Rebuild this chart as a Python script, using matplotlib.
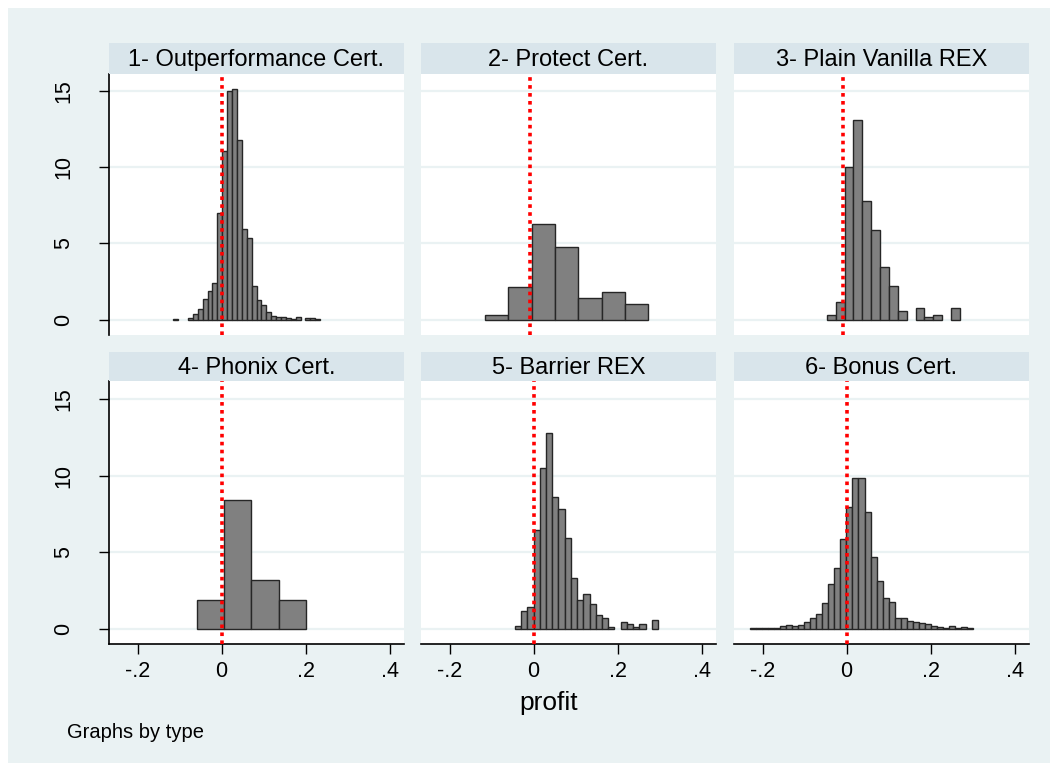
"""Histogramme des profits par type de certificat (style Stata, by(type))."""
import matplotlib.pyplot as plt
import numpy as np
from matplotlib.patches import Rectangle

plt.rcParams["font.family"] = ["Liberation Sans", "DejaVu Sans"]

# --- données -------------------------------------------------------------
titles = [
    "1- Outperformance Cert.",
    "2- Protect Cert.",
    "3- Plain Vanilla REX",
    "4- Phonix Cert.",
    "5- Barrier REX",
    "6- Bonus Cert.",
]
bin_start = [-0.115, -0.1153, -0.047, -0.0589, -0.0444, -0.231]
bin_width = [0.01165, 0.0554, 0.0211, 0.0648, 0.0148, 0.0144]

dens_outperf = [0.05, 0, 0, 0.1, 0.37, 0.72, 1.33, 1.88, 2.42, 6.99, 11.03, 14.96,
                15.15, 11.75, 5.94, 5.35, 2.2, 1.31, 0.96, 0.5, 0.22, 0.17, 0.2,
                0.1, 0.04, 0.2, 0, 0.1, 0.1, 0.04]
dens_protect = [0.28, 2.16, 6.24, 4.76, 1.40, 1.81, 1.03]
dens_vanilla = [0.33, 1.16, 10.0, 13.1, 7.75, 5.9, 3.43, 2.23, 0.55, 0, 0.74,
                0.17, 0.33, 0, 0.74]
dens_phonix = [1.9, 8.44, 3.2, 1.9]
dens_barrier = [0.2, 1.16, 1.4, 6.47, 10.53, 12.8, 8.63, 7.8, 5.91, 3.29, 1.87,
                2.25, 1.59, 0.92, 0.7, 0.11, 0, 0.44, 0.31, 0.11, 0.31, 0, 0.57]
dens_bonus = [0.03, 0.03, 0.03, 0.03, 0.04, 0.15, 0.22, 0.2, 0.26, 0.44, 0.7,
              0.98, 1.68, 2.94, 3.99, 5.89, 7.98, 9.85, 9.85, 7.63, 4.71, 3.12,
              1.98, 1.74, 0.7, 0.7, 0.52, 0.46, 0.35, 0.31, 0.17, 0.13, 0.07,
              0.2, 0.07, 0.11, 0.04]
densities = [dens_outperf, dens_protect, dens_vanilla,
             dens_phonix, dens_barrier, dens_bonus]

ref_line = [0, -0.009, -0.008, 0, 0, 0]

x_ticks = [-0.2, 0, 0.2, 0.4]
x_labels = ["-.2", "0", ".2", ".4"]
y_ticks = [0, 5, 10, 15]
y_labels = ["0", "5", "10", "15"]

# --- mise en page (pixels) ------------------------------------------------
W, H = 1058, 771
BG = "#eaf2f3"
HEAD = "#d9e5eb"
GRID = "#eaf2f3"
col_x = [109, 421, 734]
col_w = 295
row_top = [74, 381]
row_h = [261, 263]
head_h = [31, 29]

fig = plt.figure(figsize=(W / 100, H / 100), dpi=100)
fig.patch.set_facecolor("white")
fig.add_artist(Rectangle((8 / W, 1 - 763 / H), 1042 / W, 755 / H,
                         transform=fig.transFigure, facecolor=BG,
                         edgecolor="none", zorder=0))

for i, dens in enumerate(densities):
    r, c = divmod(i, 3)
    x0, top, h = col_x[c], row_top[r], row_h[r]
    ax = fig.add_axes([x0 / W, 1 - (top + h) / H, col_w / W, h / H])
    ax.set_facecolor("white")

    dens = np.asarray(dens, dtype=float)
    edges = bin_start[i] + bin_width[i] * np.arange(len(dens) + 1)
    keep = dens > 0
    ax.bar(edges[:-1][keep], dens[keep], width=bin_width[i], align="edge",
           color="#808080", edgecolor="#262626", linewidth=1.0, zorder=2)
    ax.axvline(ref_line[i], color="red", linewidth=2.6,
               linestyle=(0, (1.0, 1.2)), zorder=3)

    ax.set_xlim(-0.268, 0.434)
    ax.set_ylim(-1.0, 16.1 if r == 0 else 16.2)
    ax.set_yticks(y_ticks)
    ax.yaxis.grid(True, color=GRID, linewidth=1.6)
    ax.set_axisbelow(True)

    for side in ["top", "right", "left", "bottom"]:
        ax.spines[side].set_visible(False)

    if c == 0:
        ax.spines["left"].set_visible(True)
        ax.spines["left"].set_linewidth(1.2)
        ax.set_yticklabels(y_labels, rotation=90, va="center")
        ax.tick_params(axis="y", length=7, width=1, pad=18, labelsize=15.5)
    else:
        ax.tick_params(axis="y", left=False, labelleft=False)

    ax.set_xticks(x_ticks)
    if r == 1:
        ax.spines["bottom"].set_visible(True)
        ax.spines["bottom"].set_linewidth(1.2)
        ax.set_xticklabels(x_labels)
        ax.tick_params(axis="x", length=7, width=1, pad=5, labelsize=15.5)
    else:
        ax.tick_params(axis="x", bottom=False, labelbottom=False)

    hx = fig.add_axes([x0 / W, 1 - top / H, col_w / W, head_h[r] / H])
    hx.set_facecolor(HEAD)
    hx.set_xticks([])
    hx.set_yticks([])
    for side in hx.spines.values():
        side.set_visible(False)
    hx.text(0.5, 0.45, titles[i], ha="center", va="center", fontsize=17,
            transform=hx.transAxes)

fig.text(549 / W, 1 - 703 / H, "profit", ha="center", va="center", fontsize=19)
fig.text(67 / W, 1 - 733 / H, "Graphs by type", ha="left", va="center",
         fontsize=14.5)

fig.savefig("out.png", dpi=100)
plt.close(fig)
